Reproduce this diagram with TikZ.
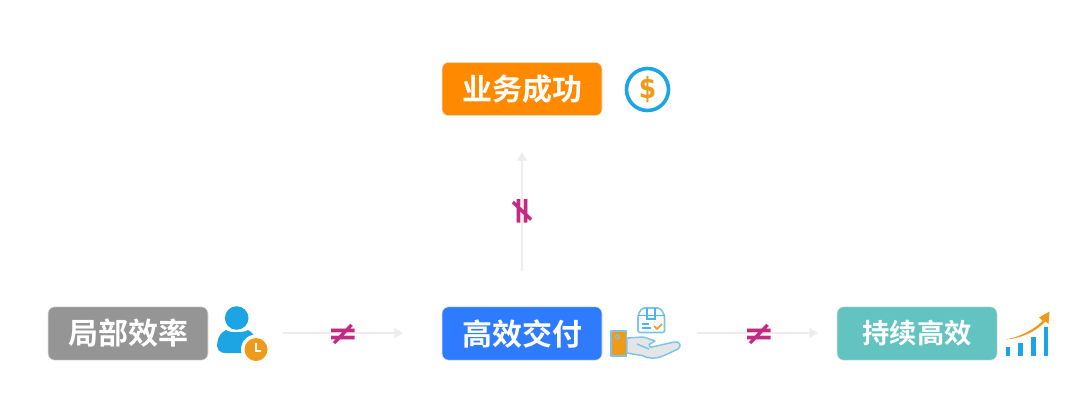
\documentclass[tikz,border=0pt]{standalone}
\usepackage{fontspec}
\setmainfont{Noto Sans CJK SC}[BoldFont={Noto Sans CJK SC Bold}]
\newfontfamily\symfont{DejaVu Sans}[BoldFont={DejaVu Sans Bold}]
\usetikzlibrary{arrows.meta,calc}
\definecolor{cgray}{HTML}{959595}
\definecolor{cblue}{HTML}{2F7BFF}
\definecolor{corange}{HTML}{FF8A00}
\definecolor{cteal}{HTML}{62C3C1}
\definecolor{iconblue}{HTML}{1BA5E2}
\definecolor{iconorange}{HTML}{EE9A1B}
\definecolor{neq}{HTML}{C42A82}
\definecolor{flow}{HTML}{EDEDED}
\definecolor{lineblue}{HTML}{7CC4EE}
\definecolor{handgray}{HTML}{E3E5E6}
\tikzset{
  box/.style={rounded corners=5pt,minimum width=120pt,minimum height=40pt,inner sep=0pt,
    text=white,font=\fontsize{22.5}{24}\selectfont\bfseries,draw=white!90!black,line width=.4pt},
  flowarrow/.style={draw=flow,line width=2.2pt,-{Triangle[length=6.5pt,width=7pt,fill=flow]}},
  neqsign/.style={text=neq,inner sep=0pt,font=\symfont\bfseries\fontsize{24}{24}\selectfont},
  thinicon/.style={draw=lineblue,line width=1.1pt,line join=round}
}
\begin{document}
\begin{tikzpicture}[x=.75pt,y=-.75pt]
\useasboundingbox[fill=white] (0,0) rectangle (1080,404);
% boxes
\node[box,fill=corange] (success) at (522,89) {业务成功};
\node[box,fill=cgray] (local) at (128,333.5) {局部效率};
\node[box,fill=cblue] (deliver) at (522,333.5) {高效交付};
\node[box,fill=cteal,font=\fontsize{20.5}{22}\selectfont\bfseries] (sustain) at (917,333.5) {持续高效};
% connector ends
\coordinate (a1) at (283,333);\coordinate (a2) at (403,333);
\coordinate (b1) at (697,333);\coordinate (b2) at (818,333);
\coordinate (c1) at (522,271);\coordinate (c2) at (522,152);
\draw[flowarrow] (a1) -- (a2);
\draw[flowarrow] (b1) -- (b2);
\draw[flowarrow] (c1) -- (c2);
\node[neqsign,xscale=1.18] (n1) at (343,334) {≠};
\node[neqsign,xscale=1.18] (n2) at (759,334) {≠};
\node[neqsign,rotate=-90,xscale=1.18] (n3) at (522.5,211) {≠};
% dollar icon
\draw[iconblue,line width=2.7pt] (647.5,89.5) circle (21);
\node[text=iconorange,inner sep=0pt,xscale=.85,font=\symfont\bfseries\fontsize{22}{22}\selectfont] (dollar) at (647.5,90) {\$};
% person icon
\fill[iconblue] (236.7,318) circle (11.8);
\fill[iconblue] (226,330) .. controls (230,333) and (243,333) .. (248,330)
  .. controls (254,333) and (256,338) .. (255,346) -- (246,353) -- (226,353)
  .. controls (219,353) and (216,349) .. (217.5,342) .. controls (218,336) and (222,332) .. (226,330) -- cycle;
\fill[white] (256,349.5) circle (15);
\fill[iconorange] (256,349.5) circle (11.5);
\draw[white,line width=1.7pt] (256,343) -- (256,351) -- (261,351);
% delivery icon
\draw[lineblue,line width=1.2pt,fill=white,rounded corners=1.5pt] (638,315) -- (642,308) -- (660,308) -- (664.5,315) -- (664.5,332.5) -- (638,332.5) -- cycle;
\draw[iconblue!80,line width=1.2pt] (638,315.5) -- (664.5,315.5);
\draw[iconblue!80,line width=1.1pt] (647,308) -- (647,319) -- (655,319) -- (655,308);
\draw[iconblue!80,line width=1pt] (642,324) -- (649,324) (642,328) -- (651,328);
\draw[iconorange,line width=1.2pt] (654,326) -- (657,329) -- (662,324);
\draw[thinicon,fill=handgray] (627,338) -- (643,337) .. controls (648,338) and (651,340) .. (655,341)
  -- (649,344.5) .. controls (650,347) and (650,348) .. (652,347)
  -- (674,342) .. controls (680,341) and (682,346) .. (678,349)
  -- (664,355.5) .. controls (656,359) and (648,359) .. (642,355.5) -- (627,353) -- cycle;
\draw[lineblue,line width=1.1pt] (637,344) -- (649,349);
\draw[thinicon,fill=iconorange] (611,331) rectangle (626.5,356);
\draw[lineblue,line width=.9pt] (617.5,337) circle (2);
% chart icon
\foreach \xx/\yy in {1005.6/346.7,1018.3/343.3,1031.3/336.7,1044/327.3}{
  \fill[iconblue] (\xx,\yy) rectangle ++(4.4,{355.7-\yy});
}
\fill[iconorange] (1006,339.5) .. controls (1020,336.5) and (1032,331) .. (1042.5,321)
  -- (1039,317.5) -- (1049.5,311.5) -- (1048.5,324) -- (1045.5,321.5)
  .. controls (1034,333) and (1021,338) .. (1006,339.5) -- cycle;
\end{tikzpicture}
\end{document}
